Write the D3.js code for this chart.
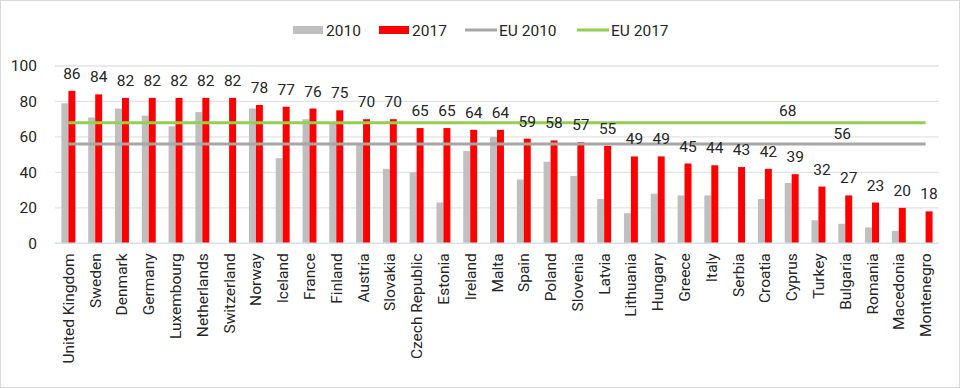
<!DOCTYPE html>
<html>
<head>
<meta charset="utf-8">
<script src="https://cdn.jsdelivr.net/npm/d3@7"></script>
<style>
  body { margin: 0; background: #fff; }
  text { font-family: Roboto, "DejaVu Sans", sans-serif; fill: #262626; }
</style>
</head>
<body>
<div id="plot"></div>
<script>
  // data
  const countries = ["United Kingdom", "Sweden", "Denmark", "Germany", "Luxembourg", "Netherlands",
    "Switzerland", "Norway", "Iceland", "France", "Finland", "Austria", "Slovakia", "Czech Republic",
    "Estonia", "Ireland", "Malta", "Spain", "Poland", "Slovenia", "Latvia", "Lithuania", "Hungary",
    "Greece", "Italy", "Serbia", "Croatia", "Cyprus", "Turkey", "Bulgaria", "Romania", "Macedonia",
    "Montenegro"];
  const v2010 = [79, 71, 76, 72, 66, 74, null, 76, 48, 70, 68, 56, 42, 40, 23, 52, 60, 36, 46, 38,
    25, 17, 28, 27, 27, null, 25, 34, 13, 11, 9, 7, null];
  const v2017 = [86, 84, 82, 82, 82, 82, 82, 78, 77, 76, 75, 70, 70, 65, 65, 64, 64, 59, 58, 57,
    55, 49, 49, 45, 44, 43, 42, 39, 32, 27, 23, 20, 18];
  const eu2010 = 56;
  const eu2017 = 68;
  const yTicks = [0, 20, 40, 60, 80, 100];

  const w = 960;
  const h = 388;
  const margin = {top: 66, right: 21, bottom: 144.7, left: 55};

  const svg = d3.select("div#plot")
      .append("svg")
      .attr("width", w)
      .attr("height", h);

  svg.append("rect")
      .attr("x", 0.5)
      .attr("y", 0.5)
      .attr("width", w - 1)
      .attr("height", h - 1)
      .attr("fill", "#fff")
      .attr("stroke", "#d9d9d9");

  const xScale = d3.scaleBand()
      .domain(countries)
      .range([margin.left, w - margin.right]);

  const yScale = d3.scaleLinear()
      .domain([0, 100])
      .range([h - margin.bottom, margin.top]);

  const bw = xScale.bandwidth() * 0.26;
  const xc = d => xScale(d) + xScale.bandwidth() / 2;

  // gridlines
  svg.append("g")
    .selectAll("line")
    .data(yTicks.slice(1))
    .join("line")
      .attr("x1", margin.left)
      .attr("x2", w - margin.right)
      .attr("y1", d => yScale(d))
      .attr("y2", d => yScale(d))
      .attr("stroke", "#e3e3e3")
      .attr("stroke-width", 1.3);

  // y axis
  const yAxis = d3.axisLeft(yScale)
      .tickValues(yTicks)
      .tickSize(0)
      .tickPadding(0);

  svg.append("g")
      .attr("transform", `translate(37, 0)`)
      .call(yAxis)
      .call(g => g.select(".domain").remove())
      .call(g => g.selectAll("text")
          .style("font-size", "15.5px")
          .attr("fill", "#262626"));

  // bars
  svg.append("g")
    .selectAll("rect")
    .data(countries.filter((c, i) => v2010[i] != null))
    .join("rect")
      .attr("x", d => xc(d) - bw)
      .attr("y", d => yScale(v2010[countries.indexOf(d)]))
      .attr("width", bw)
      .attr("height", d => yScale(0) - yScale(v2010[countries.indexOf(d)]))
      .attr("fill", "#bfbfbf");

  svg.append("g")
    .selectAll("rect")
    .data(countries)
    .join("rect")
      .attr("x", d => xc(d))
      .attr("y", (d, i) => yScale(v2017[i]))
      .attr("width", bw)
      .attr("height", (d, i) => yScale(0) - yScale(v2017[i]))
      .attr("fill", "#ff0000");

  // baseline
  svg.append("line")
      .attr("x1", margin.left)
      .attr("x2", w - margin.right)
      .attr("y1", yScale(0))
      .attr("y2", yScale(0))
      .attr("stroke", "#d6e1ef")
      .attr("stroke-width", 1.5);

  // EU average lines
  const first = xc(countries[0]);
  const last = xc(countries[countries.length - 1]);

  svg.append("line")
      .attr("x1", first).attr("x2", last)
      .attr("y1", yScale(eu2010)).attr("y2", yScale(eu2010))
      .attr("stroke", "#a6a6a6")
      .attr("stroke-width", 3);

  svg.append("line")
      .attr("x1", first).attr("x2", last)
      .attr("y1", yScale(eu2017)).attr("y2", yScale(eu2017))
      .attr("stroke", "#92d050")
      .attr("stroke-width", 3);

  svg.append("text")
      .attr("x", xc("Bulgaria") - 3)
      .attr("y", yScale(eu2010) - 5)
      .attr("text-anchor", "middle")
      .style("font-size", "15.5px")
      .text(eu2010);

  svg.append("text")
      .attr("x", xc("Cyprus") - 4)
      .attr("y", yScale(eu2017) - 7)
      .attr("text-anchor", "middle")
      .style("font-size", "15.5px")
      .text(eu2017);

  // value labels on 2017 bars
  svg.append("g")
    .selectAll("text")
    .data(countries)
    .join("text")
      .attr("x", d => xc(d) + bw / 2)
      .attr("y", (d, i) => yScale(v2017[i]) - 12)
      .attr("text-anchor", "middle")
      .style("font-size", "15.5px")
      .text((d, i) => v2017[i]);

  // category labels
  svg.append("g")
    .selectAll("text")
    .data(countries)
    .join("text")
      .attr("transform", d => `translate(${xc(d) + 5.5}, ${yScale(0) + 10}) rotate(-90)`)
      .attr("text-anchor", "end")
      .style("font-size", "15.5px")
      .text(d => d);

  // legend
  const legend = svg.append("g");
  const items = [
    {label: "2010", color: "#bfbfbf", type: "rect", x: 293},
    {label: "2017", color: "#ff0000", type: "rect", x: 379},
    {label: "EU 2010", color: "#a6a6a6", type: "line", x: 465},
    {label: "EU 2017", color: "#92d050", type: "line", x: 577}
  ];

  items.forEach(it => {
    if (it.type === "rect") {
      legend.append("rect")
          .attr("x", it.x).attr("y", 26)
          .attr("width", 30).attr("height", 8)
          .attr("fill", it.color);
    } else {
      legend.append("line")
          .attr("x1", it.x).attr("x2", it.x + 32)
          .attr("y1", 30).attr("y2", 30)
          .attr("stroke", it.color)
          .attr("stroke-width", 3);
    }
    legend.append("text")
        .attr("x", it.x + (it.type === "rect" ? 33 : 34))
        .attr("y", 36)
        .style("font-size", "15.5px")
        .text(it.label);
  });
</script>
</body>
</html>
